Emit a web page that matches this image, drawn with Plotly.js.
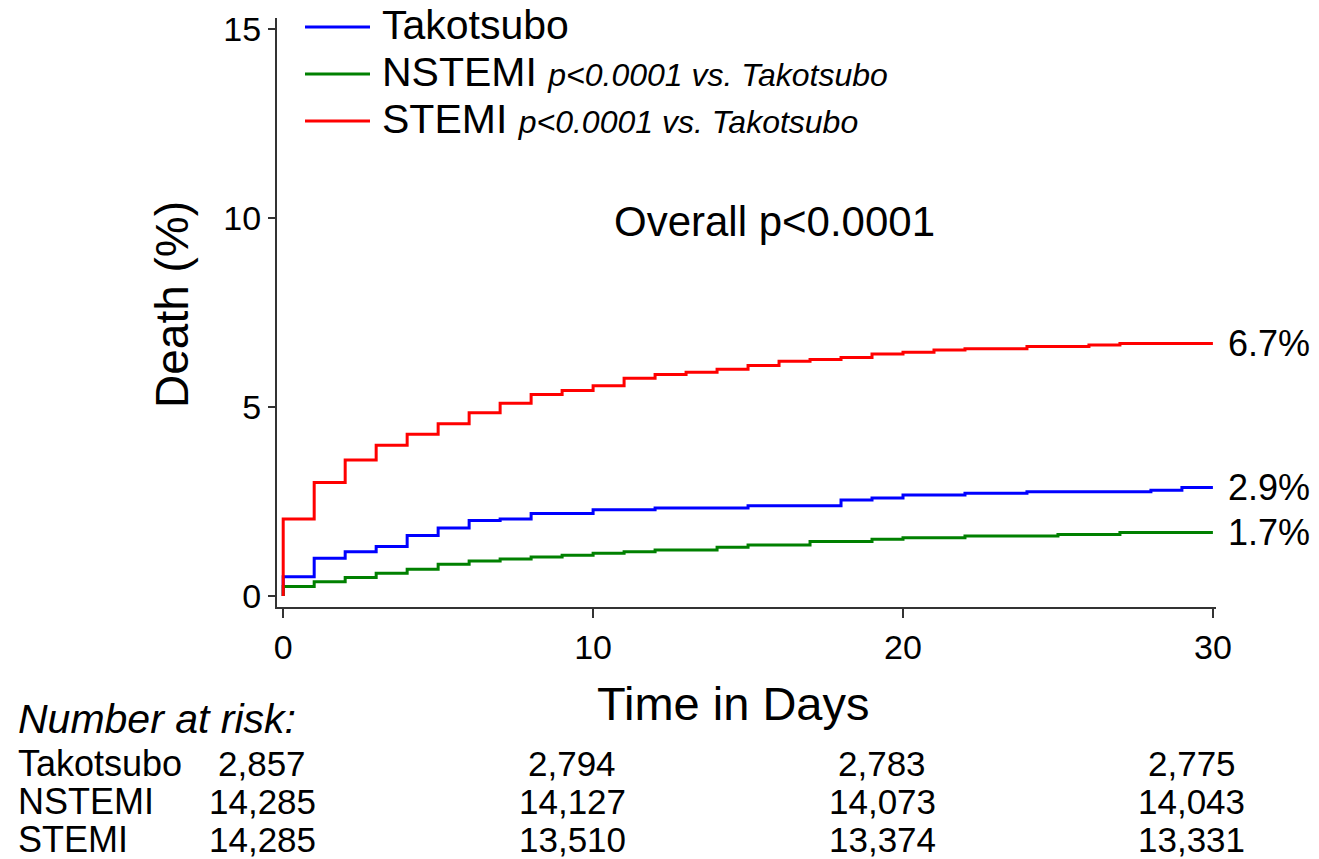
<!DOCTYPE html>
<html>
<head>
<meta charset="utf-8">
<script src="https://cdn.plot.ly/plotly-3.0.1.min.js"></script>
<style>html,body{margin:0;padding:0;background:#fff;}#chart{width:1319px;height:859px;}</style>
</head>
<body>
<div id="chart"></div>
<script>
// ---- data ----
var takoDays  = [0,0,1,2,3,4,5,6,7,8,10,12,15,18,19,20,22,24,28,29,30];
var takoDeath = [0,0.51,1.0,1.17,1.31,1.60,1.80,2.0,2.04,2.18,2.28,2.33,2.39,2.54,2.59,2.67,2.72,2.76,2.80,2.87,2.87];

var nstemiDays  = [0,0,1,2,3,4,5,6,7,8,9,10,11,12,14,15,17,19,20,22,25,27,30];
var nstemiDeath = [0,0.25,0.38,0.49,0.60,0.71,0.84,0.93,0.98,1.03,1.08,1.13,1.17,1.22,1.29,1.35,1.44,1.50,1.54,1.59,1.63,1.68,1.68];

var stemiDays  = [0,0,1,2,3,4,5,6,7,8,9,10,11,12,13,14,15,16,17,18,19,20,21,22,24,26,27,30];
var stemiDeath = [0,2.04,3.0,3.6,3.99,4.28,4.56,4.85,5.10,5.33,5.44,5.56,5.76,5.86,5.92,6.0,6.10,6.21,6.26,6.31,6.40,6.45,6.51,6.54,6.60,6.64,6.68,6.68];

var groupNames = ["Takotsubo","NSTEMI","STEMI"];
var groupColors = ["#0000FF","#008000","#FF0000"];
var endLabels = ["2.9%","1.7%","6.7%"];
var pValueNote = "p&lt;0.0001 vs. Takotsubo";
var overallNote = "Overall p&lt;0.0001";

var riskDays = [0,10,20,30];
var riskTako   = ["2,857","2,794","2,783","2,775"];
var riskNstemi = ["14,285","14,127","14,073","14,043"];
var riskStemi  = ["14,285","13,510","13,374","13,331"];

var yTicks = [0,5,10,15];
var xTicks = [0,10,20,30];

// ---- layout helpers (pixel -> paper) ----
var L = 277, T = 18, PW = 939, PH = 589;
function px(x){ return (x - L) / PW; }
function py(y){ return (T + PH - y) / PH; }

var FONT = "Arial, 'Liberation Sans', sans-serif";

var series = [[takoDays,takoDeath],[nstemiDays,nstemiDeath],[stemiDays,stemiDeath]];
var traces = series.map(function(s,i){
  return {x:s[0], y:s[1], type:"scatter", mode:"lines", line:{shape:"hv", color:groupColors[i], width:3},
          name:groupNames[i], hoverinfo:"x+y"};
});

var annotations = [];
var shapes = [];

// end-point labels
series.forEach(function(s,i){
  annotations.push({xref:"x", yref:"y", x:30, y:s[1][s[1].length-1], xanchor:"left", yanchor:"middle",
    xshift:13, text:endLabels[i], showarrow:false, font:{family:FONT, size:36, color:"#000"}});
});

// legend (manual)
var legY = [27,74,121];
groupNames.forEach(function(n,i){
  shapes.push({type:"line", xref:"paper", yref:"paper", x0:px(305), x1:px(370), y0:py(legY[i]), y1:py(legY[i]),
    line:{color:groupColors[i], width:3}});
  var txt = n + (i>0 ? " <i><span style='font-size:32px'>" + pValueNote + "</span></i>" : "");
  annotations.push({xref:"paper", yref:"paper", x:px(380), y:py(legY[i]-2), xanchor:"left", yanchor:"middle",
    text:txt, showarrow:false, font:{family:FONT, size:41, color:"#000"}});
});

// overall p
annotations.push({xref:"x", yref:"y", x:15.85, y:9.9, xanchor:"center", yanchor:"middle", text:overallNote,
  showarrow:false, font:{family:FONT, size:42, color:"#000"}});

// axis titles
annotations.push({xref:"paper", yref:"paper", x:px(733), y:py(703), xanchor:"center", yanchor:"middle",
  text:"Time in Days", showarrow:false, font:{family:FONT, size:47, color:"#000"}});
annotations.push({xref:"paper", yref:"paper", x:px(172), y:py(305), xanchor:"center", yanchor:"middle",
  text:"Death (%)", textangle:-90, showarrow:false, font:{family:FONT, size:46, color:"#000"}});

// number at risk table
annotations.push({xref:"paper", yref:"paper", x:px(16), y:py(719), xanchor:"left", yanchor:"middle",
  text:"<i>Number at risk:</i>", showarrow:false, font:{family:FONT, size:41, color:"#000"}});
var rowY = [763,801,839];
var rows = [riskTako, riskNstemi, riskStemi];
rows.forEach(function(r,i){
  annotations.push({xref:"paper", yref:"paper", x:px(16), y:py(rowY[i]), xanchor:"left", yanchor:"middle",
    text:groupNames[i], showarrow:false, font:{family:FONT, size:36, color:"#000"}});
  r.forEach(function(v,j){
    annotations.push({xref:"x", yref:"paper", x:riskDays[j], y:py(rowY[i]), xanchor:"center", yanchor:"middle",
      xshift:-21, text:v, showarrow:false, font:{family:FONT, size:35, color:"#000"}});
  });
});

var layout = {
  width:1319, height:859,
  margin:{l:L, r:1319-L-PW, t:T, b:859-T-PH, pad:0},
  paper_bgcolor:"#fff", plot_bgcolor:"#fff",
  showlegend:false,
  font:{family:FONT, color:"#000"},
  xaxis:{range:[-0.2,30.1], tickvals:xTicks, ticktext:xTicks.map(String), showgrid:false, zeroline:false,
    showline:true, linecolor:"#333", linewidth:2, ticks:"outside", ticklen:9, tickwidth:1.5, tickcolor:"#333",
    tickfont:{family:FONT, size:34, color:"#000"}, fixedrange:true},
  yaxis:{range:[-0.29,15.29], tickvals:yTicks, ticktext:yTicks.map(String), showgrid:false, zeroline:false,
    showline:true, linecolor:"#333", linewidth:2, ticks:"outside", ticklen:7, tickwidth:1.5, tickcolor:"#333",
    tickfont:{family:FONT, size:34, color:"#000"}, fixedrange:true},
  annotations:annotations,
  shapes:shapes
};

Plotly.newPlot("chart", traces, layout, {displayModeBar:false, staticPlot:true});
</script>
</body>
</html>
